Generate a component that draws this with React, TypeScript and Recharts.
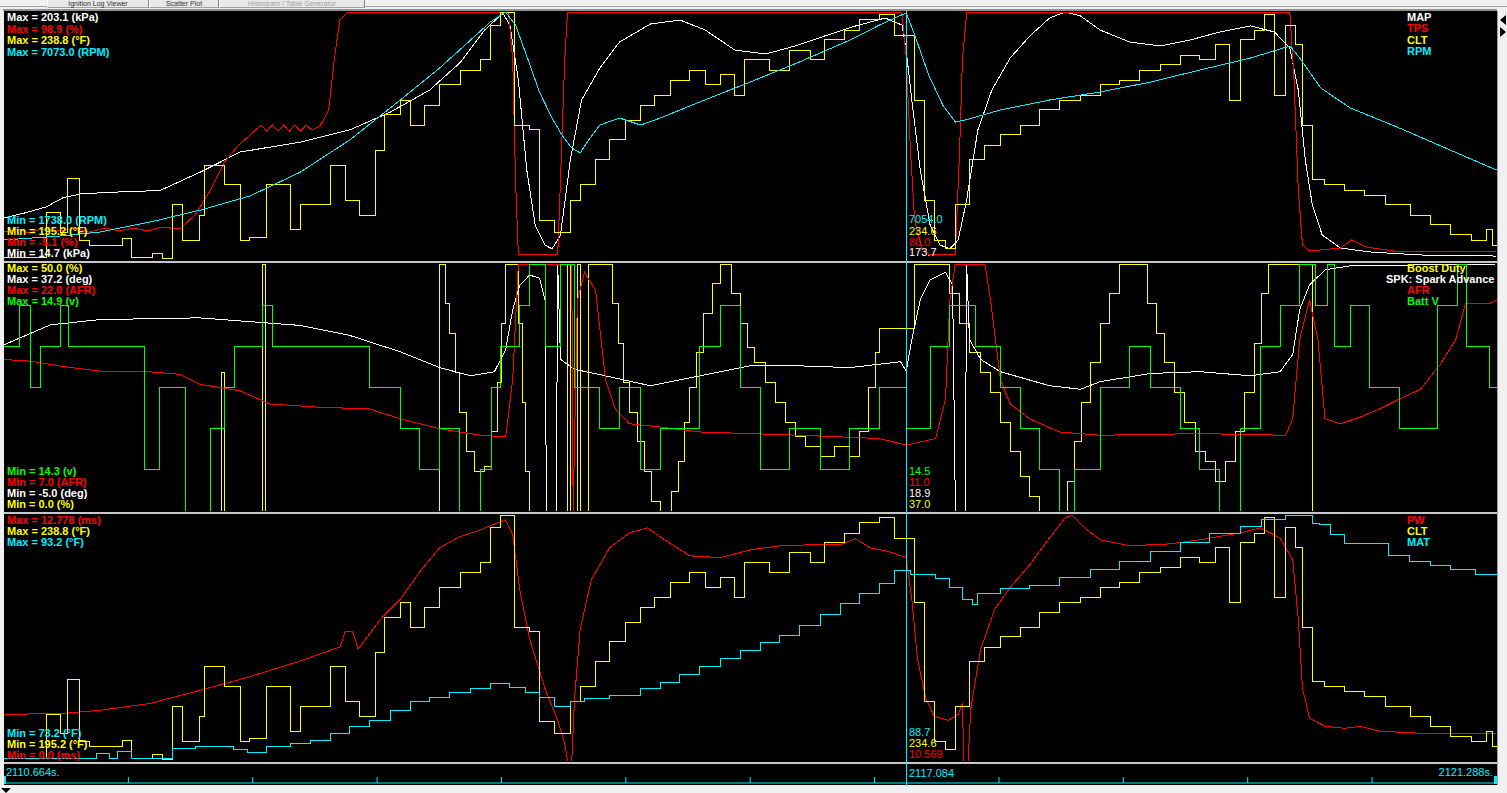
import React from 'react';
import { Line, LineChart, XAxis, YAxis } from 'recharts';

type P = [number, number];

// time window of the log view, seconds since 2110.664 s
const T0 = 2110.664;
const SPAN = 10.624;
const CURSOR = 6.42; // 2117.084 s
const TICKS = [0.885, 1.77, 2.655, 3.54, 4.425, 5.31, 6.195, 7.08, 7.965, 8.85, 9.735];

const WHITE = '#ffffff';
const RED = '#ff0000';
const YELLOW = '#ffff00';
const CYAN = '#00f0ff';
const GREEN = '#00ff00';

// ---- pane 1 ----
const mapKpa: P[] = [
  [0, 46.6], [0.15, 50.5], [0.3, 55.0], [0.42, 62.0], [0.55, 65.0], [0.8, 66.3], [1.11, 67.5], [1.4, 81.6], [1.68, 96.7], [2.11, 104.3], [2.46, 113.5],
  [2.75, 127.1], [3.03, 143.9], [3.25, 165.1], [3.42, 189.4], [3.55, 202.3], [3.6, 193.2], [3.66, 151.4],
  [3.72, 83.1], [3.78, 41.3], [3.85, 26.1], [3.9, 23.1], [3.96, 33.7], [4.03, 90.7], [4.11, 136.2], [4.24, 160.6],
  [4.38, 180.3], [4.6, 194.0], [4.81, 197.0], [4.99, 189.4], [5.2, 174.2], [5.42, 171.2], [5.63, 177.3],
  [5.84, 184.9], [6.06, 192.5], [6.27, 198.5], [6.39, 193.2], [6.42, 173.7], [6.46, 136.2], [6.52, 83.1],
  [6.59, 41.3], [6.66, 26.1], [6.73, 23.1], [6.79, 29.9], [6.85, 60.3], [6.93, 113.5], [7.03, 143.9],
  [7.16, 168.2], [7.3, 184.9], [7.44, 198.5], [7.55, 203.1], [7.66, 200.1], [7.8, 189.4], [8.01, 180.3],
  [8.23, 177.3], [8.44, 181.8], [8.65, 187.9], [8.87, 192.5], [9.04, 187.9], [9.15, 175.8], [9.21, 143.9],
  [9.26, 90.7], [9.31, 56.5], [9.38, 33.7], [9.51, 23.8], [9.72, 20.8], [10.08, 18.5], [10.62, 17.7],
];

const tps: P[] = [
  [0, 6.6], [0.1, 7.9], [0.18, 6.2], [0.26, 7.9], [0.4, 7.1], [0.5, 8.3], [0.6, 6.6], [0.72, 8.3], [0.82, 7.1],
  [0.92, 8.3], [1.02, 7.1], [1.12, 8.7], [1.25, 7.9], [1.36, 13.8], [1.47, 24.3], [1.57, 36.0], [1.67, 43.1],
  [1.79, 49.4], [1.83, 51.5], [1.87, 48.9], [1.91, 51.5], [1.95, 48.9], [1.99, 51.5], [2.03, 48.9], [2.07, 51.5],
  [2.11, 48.9], [2.15, 51.5], [2.19, 49.4], [2.25, 51.1], [2.31, 57.8], [2.35, 78.8], [2.39, 95.6], [2.45, 98.9],
  [3.59, 98.9], [3.62, 78.8], [3.64, 28.5], [3.66, -3.0], [3.94, -3.0], [3.96, 28.5], [3.99, 78.8], [4.01, 98.5],
  [6.39, 98.5], [6.42, 80.0], [6.45, 41.0], [6.48, 11.7], [6.53, -0.1], [6.59, -3.0], [6.77, -2.6], [6.8, 41.0],
  [6.82, 78.8], [6.85, 98.5], [9.15, 98.5], [9.18, 70.4], [9.21, 24.3], [9.24, 1.2], [9.29, -1.3], [9.51, -0.1],
  [9.59, 3.3], [9.69, 0.4], [9.93, -1.7], [10.62, -1.7],
];

const clt: P[] = [
  [0, 195.6], [0.3, 203.5], [0.4, 200.1], [0.45, 209.6], [0.54, 198.7], [0.61, 197.8], [0.84, 198.9], [0.91, 195.7],
  [1.06, 196.3], [1.13, 195.4], [1.2, 204.9], [1.27, 198.7], [1.39, 203.1], [1.43, 211.9], [1.57, 208.4],
  [1.68, 198.7], [1.75, 199.1], [1.87, 208.4], [2.04, 200.5], [2.11, 204.9], [2.32, 211.9], [2.43, 205.7],
  [2.53, 203.1], [2.64, 214.5], [2.71, 220.7], [2.82, 223.3], [2.89, 218.9], [2.99, 222.4], [3.1, 226.0],
  [3.25, 228.6], [3.39, 230.4], [3.46, 236.5], [3.53, 238.8], [3.63, 218.9], [3.74, 218.1], [3.81, 202.2],
  [3.92, 200.1], [4.03, 205.7], [4.1, 208.4], [4.21, 212.8], [4.31, 216.3], [4.42, 219.8], [4.53, 222.4],
  [4.63, 224.2], [4.74, 226.8], [4.88, 228.6], [4.99, 226.0], [5.1, 227.8], [5.2, 224.2], [5.27, 230.4],
  [5.45, 228.6], [5.59, 232.1], [5.74, 230.4], [5.84, 233.9], [5.98, 235.6], [6.09, 237.4], [6.23, 238.3],
  [6.34, 234.6], [6.48, 223.3], [6.55, 205.7], [6.62, 198.7], [6.7, 197.3], [6.77, 204.9], [6.87, 212.8],
  [6.98, 215.4], [7.09, 217.2], [7.23, 218.9], [7.37, 221.6], [7.51, 223.3], [7.66, 224.2], [7.8, 226.0],
  [7.94, 226.8], [8.08, 228.6], [8.23, 229.5], [8.37, 231.2], [8.51, 230.4], [8.62, 233.0], [8.72, 223.3],
  [8.8, 233.9], [8.9, 235.6], [8.97, 238.3], [9.04, 224.2], [9.12, 236.5], [9.19, 233.0], [9.24, 218.9],
  [9.31, 209.3], [9.4, 208.4], [9.54, 207.5], [9.68, 206.6], [9.83, 204.9], [10.01, 203.1], [10.15, 201.4],
  [10.29, 199.6], [10.44, 198.7], [10.55, 200.5], [10.59, 197.8], [10.624, 197.8],
];

const rpm: P[] = [
  [0, 2168], [0.4, 2254], [0.68, 2340], [1.04, 2555], [1.4, 2814], [1.75, 3115], [2.11, 3631], [2.46, 4319],
  [2.82, 5180], [3.1, 5868], [3.32, 6470], [3.46, 6857], [3.57, 7073], [3.64, 6793], [3.73, 6040], [3.81, 5352],
  [3.9, 4792], [3.97, 4427], [4.04, 4147], [4.1, 4040], [4.16, 4319], [4.24, 4642], [4.38, 4792], [4.53, 4642],
  [4.67, 4792], [4.95, 5137], [5.31, 5567], [5.66, 5997], [6.02, 6470], [6.23, 6793], [6.42, 7054], [6.48, 6578],
  [6.58, 5717], [6.68, 5072], [6.77, 4706], [6.84, 4749], [7.09, 4965], [7.44, 5180], [7.8, 5352], [8.16, 5567],
  [8.51, 5825], [8.87, 6083], [9.15, 6341], [9.22, 6083], [9.37, 5438], [9.58, 5008], [9.93, 4577], [10.29, 4104],
  [10.62, 3674],
];

// ---- pane 2 ----
const boostDuty: P[] = [
  [0, 0], [1.55, 28], [1.57, 0], [1.84, 50], [1.86, 0], [3.1, 50], [3.14, 42], [3.17, 36], [3.21, 28], [3.24, 20],
  [3.29, 12], [3.35, 8], [3.42, 9], [3.47, 16], [3.51, 26], [3.54, 38], [3.57, 50], [3.64, 50], [3.66, 38],
  [3.69, 22], [3.71, 8], [3.74, 0], [4.01, 50], [4.03, 0], [4.08, 50], [4.1, 0], [4.16, 50], [4.33, 42], [4.37, 34],
  [4.41, 26], [4.45, 20], [4.51, 14], [4.56, 8], [4.61, 2], [4.67, 0], [4.75, 4], [4.8, 10], [4.84, 18], [4.88, 25],
  [4.93, 32], [4.98, 40], [5.04, 46], [5.1, 50], [5.18, 44], [5.24, 38], [5.29, 33], [5.34, 30], [5.42, 26],
  [5.49, 22], [5.56, 18], [5.63, 15], [5.7, 13], [5.81, 11], [5.91, 13], [6.02, 11], [6.09, 16], [6.15, 25],
  [6.2, 32], [6.23, 37], [6.48, 50], [6.7, 50], [6.73, 44], [6.8, 38], [6.87, 32], [6.95, 28], [7.02, 24],
  [7.09, 18], [7.16, 12], [7.23, 7], [7.3, 3], [7.37, 0], [7.53, 0], [7.57, 6], [7.62, 14], [7.67, 22], [7.73, 30],
  [7.8, 38], [7.87, 44], [7.94, 50], [8.08, 50], [8.14, 42], [8.2, 36], [8.26, 30], [8.33, 24], [8.4, 18],
  [8.48, 12], [8.55, 10], [8.62, 6], [8.69, 10], [8.76, 16], [8.83, 24], [8.9, 34], [8.95, 44], [9.0, 50],
  [9.31, 0], [10.624, 0],
];

const spk: P[] = [
  [0, 23.4], [0.33, 26.8], [0.68, 27.7], [1.39, 28.0], [2.11, 26.7], [2.46, 25.0], [2.82, 22.2], [3.1, 19.5],
  [3.32, 18.1], [3.49, 18.8], [3.57, 22.6], [3.62, 29.4], [3.67, 33.6], [3.74, 35.3], [3.81, 34.8], [3.85, 31.1],
  [3.86, -5], [3.93, -5], [3.94, 37.2], [3.96, 20.9], [4.06, 19.2], [4.24, 18.3], [4.6, 16.4], [4.95, 18.1],
  [5.31, 19.8], [5.66, 19.8], [6.02, 19.5], [6.38, 20.5], [6.42, 18.9], [6.46, 24.3], [6.52, 31.1], [6.59, 34.5],
  [6.7, 35.8], [6.75, 33.6], [6.77, -5], [6.84, -5], [6.85, 37.2], [6.87, 24.3], [6.95, 20.9], [7.09, 18.8],
  [7.44, 16.4], [7.66, 15.8], [7.8, 17.1], [8.16, 18.5], [8.51, 18.8], [8.87, 18.1], [9.08, 18.8], [9.17, 21.7],
  [9.22, 29.4], [9.29, 33.6], [9.4, 36.2], [9.58, 36.9], [9.93, 37.0], [10.62, 37.2],
];

const afr: P[] = [
  [0, 16.2], [0.19, 16.1], [0.4, 15.8], [0.68, 15.5], [0.97, 15.5], [1.25, 15.3], [1.39, 14.7], [1.68, 14.3],
  [1.89, 13.5], [2.25, 13.3], [2.6, 13.2], [2.82, 12.6], [3.1, 12.0], [3.39, 11.6], [3.57, 11.5], [3.62, 15.0],
  [3.66, 22.0], [4.04, 22.0], [4.05, 7.0], [4.08, 19.8], [4.13, 21.5], [4.21, 20.4], [4.28, 15.0], [4.35, 13.2],
  [4.45, 12.3], [4.67, 12.1], [4.95, 11.8], [5.66, 11.6], [6.23, 11.4], [6.42, 11.0], [6.63, 11.4], [6.7, 13.8],
  [6.73, 19.8], [6.77, 22.0], [6.98, 22.0], [7.02, 19.8], [7.09, 15.0], [7.16, 13.5], [7.3, 12.6], [7.51, 11.8],
  [7.8, 11.6], [8.51, 11.7], [9.12, 11.6], [9.17, 12.6], [9.22, 17.4], [9.29, 19.8], [9.35, 17.4], [9.4, 12.6],
  [9.51, 12.3], [9.65, 12.7], [9.79, 13.2], [9.93, 13.8], [10.08, 14.4], [10.22, 15.9], [10.33, 17.4],
  [10.4, 19.6], [10.57, 19.6], [10.62, 19.8],
];

const battV: P[] = [
  [0, 14.7], [0.11, 14.8], [0.19, 14.6], [0.26, 14.7], [0.4, 14.8], [0.46, 14.7], [1.0, 14.4], [1.11, 14.6],
  [1.29, 14.3], [1.47, 14.5], [1.57, 14.6], [1.64, 14.7], [1.84, 14.8], [1.91, 14.7], [2.6, 14.6], [2.82, 14.5],
  [2.96, 14.4], [3.1, 14.5], [3.24, 14.3], [3.39, 14.4], [3.47, 14.6], [3.53, 14.7], [3.67, 14.8], [3.74, 14.9],
  [3.85, 14.7], [3.96, 14.9], [4.06, 14.6], [4.24, 14.5], [4.38, 14.6], [4.53, 14.4], [4.67, 14.5], [4.95, 14.7],
  [5.1, 14.8], [5.24, 14.6], [5.38, 14.4], [5.59, 14.5], [5.81, 14.4], [6.02, 14.5], [6.23, 14.6], [6.42, 14.5],
  [6.59, 14.7], [6.73, 14.8], [6.91, 14.7], [7.09, 14.6], [7.23, 14.5], [7.37, 14.4], [7.51, 14.3], [7.62, 14.4],
  [7.8, 14.6], [8.01, 14.7], [8.16, 14.6], [8.37, 14.5], [8.51, 14.4], [8.65, 14.3], [8.8, 14.5], [8.94, 14.7],
  [9.08, 14.8], [9.22, 14.9], [9.33, 14.8], [9.42, 14.9], [9.47, 14.7], [9.58, 14.8], [9.72, 14.6], [9.93, 14.5],
  [10.2, 14.8], [10.34, 14.9], [10.41, 14.7], [10.57, 14.6], [10.624, 14.6],
];

// ---- pane 3 ----
const pw: P[] = [
  [0, 2.42], [0.4, 2.47], [0.68, 2.63], [1.04, 2.99], [1.39, 3.66], [1.75, 4.38], [2.11, 5.2], [2.39, 5.92],
  [2.43, 6.75], [2.48, 6.75], [2.52, 5.82], [2.68, 7.37], [2.82, 8.4], [2.96, 9.84], [3.1, 11.08], [3.24, 11.64],
  [3.39, 12.0], [3.49, 12.31], [3.57, 12.52], [3.62, 11.75], [3.67, 8.91], [3.74, 6.34], [3.85, 3.76],
  [3.94, 2.11], [3.99, 0.93], [4.01, 0], [4.04, 0], [4.06, 3.25], [4.1, 6.85], [4.18, 9.43], [4.31, 11.08],
  [4.45, 11.85], [4.58, 12.11], [4.7, 11.49], [4.88, 10.66], [5.1, 10.56], [5.31, 10.97], [5.52, 11.18],
  [5.74, 11.23], [5.95, 11.23], [6.06, 11.55], [6.16, 11.08], [6.3, 10.87], [6.42, 10.569], [6.46, 8.4],
  [6.5, 5.31], [6.56, 3.25], [6.62, 2.32], [6.72, 2.11], [6.79, 2.42], [6.82, 2.99], [6.83, 0], [6.86, 0],
  [6.88, 2.73], [6.95, 5.82], [7.05, 7.88], [7.16, 9.02], [7.3, 10.2], [7.44, 11.59], [7.55, 12.62], [7.6, 12.778],
  [7.69, 12.11], [7.8, 11.49], [8.01, 11.18], [8.3, 11.28], [8.51, 11.49], [8.8, 11.85], [8.94, 12.11],
  [9.08, 11.59], [9.17, 10.46], [9.21, 7.37], [9.24, 3.76], [9.29, 2.22], [9.4, 1.8], [9.54, 1.7], [9.65, 1.8],
  [9.79, 1.55], [10.08, 1.44], [10.62, 1.44],
];

const mat: P[] = [
  [0, 73.4], [0.66, 73.8], [0.75, 73.4], [0.81, 74.0], [0.91, 73.4], [1.2, 74.2], [1.36, 74.4], [1.63, 74.1],
  [1.73, 73.9], [1.87, 74.4], [2.04, 74.6], [2.18, 74.9], [2.32, 75.4], [2.46, 76.0], [2.6, 76.5], [2.75, 77.3],
  [2.89, 78.0], [3.03, 78.4], [3.17, 78.8], [3.32, 79.1], [3.46, 79.5], [3.6, 79.2], [3.71, 78.8], [3.81, 78.4],
  [3.92, 77.6], [4.03, 78.0], [4.13, 78.3], [4.31, 78.5], [4.53, 79.1], [4.67, 79.6], [4.81, 80.2], [4.95, 80.9],
  [5.1, 81.5], [5.24, 82.2], [5.38, 82.8], [5.52, 83.4], [5.66, 84.2], [5.81, 85.1], [5.95, 86.0], [6.09, 86.8],
  [6.23, 87.6], [6.34, 88.7], [6.45, 88.4], [6.63, 88.0], [6.73, 87.3], [6.82, 86.3], [6.89, 85.9], [6.93, 86.8],
  [7.09, 87.2], [7.3, 87.5], [7.51, 88.1], [7.73, 88.8], [7.94, 89.4], [8.16, 90.2], [8.37, 91.0], [8.58, 91.7],
  [8.8, 92.3], [8.95, 92.8], [9.12, 93.2], [9.31, 92.5], [9.36, 92.4], [9.44, 91.6], [9.54, 90.9], [9.85, 89.9],
  [10.0, 89.4], [10.15, 89.1], [10.29, 88.8], [10.47, 88.4], [10.624, 88.1],
];

type Series = {
  id: string; name: string; unit: string; color: string; data: P[];
  min: number; max: number; maxText?: string; cursor: string; step?: boolean;
};

const S: Record<string, Series> = {
  map: { id: 'map', name: 'MAP', unit: 'kPa', color: WHITE, data: mapKpa, min: 14.7, max: 203.1, cursor: '173.7' },
  tps: { id: 'tps', name: 'TPS', unit: '%', color: RED, data: tps, min: -5.1, max: 98.9, cursor: '80.0' },
  clt: { id: 'clt', name: 'CLT', unit: '\u00b0F', color: YELLOW, data: clt, min: 195.2, max: 238.8, cursor: '234.6', step: true },
  rpm: { id: 'rpm', name: 'RPM', unit: 'RPM', color: CYAN, data: rpm, min: 1738.0, max: 7073.0, cursor: '7054.0' },
  boost: { id: 'boost', name: 'Boost Duty', unit: '%', color: YELLOW, data: boostDuty, min: 0, max: 50, cursor: '37.0', step: true },
  spk: { id: 'spk', name: 'SPK: Spark Advance', unit: 'deg', color: WHITE, data: spk, min: -5.0, max: 37.2, cursor: '18.9' },
  afr: { id: 'afr', name: 'AFR', unit: 'AFR', color: RED, data: afr, min: 7.0, max: 22.0, cursor: '11.0' },
  batt: { id: 'batt', name: 'Batt V', unit: 'v', color: GREEN, data: battV, min: 14.3, max: 14.9, cursor: '14.5', step: true },
  pw: { id: 'pw', name: 'PW', unit: 'ms', color: RED, data: pw, min: 0, max: 12.778, maxText: '12.778', cursor: '10.569' },
  mat: { id: 'mat', name: 'MAT', unit: '\u00b0F', color: CYAN, data: mat, min: 73.2, max: 93.2, cursor: '88.7', step: true },
};

const PANES = [
  { top: 12, h: 248, series: [S.map, S.tps, S.clt, S.rpm], nameX: [1407, 1407, 1407, 1407], base: [21, 32.5, 44, 55.5], minBase: [224, 235.2, 246.3, 257.4], curBase: [223.3, 234.8, 245.5, 256] },
  { top: 264, h: 247, series: [S.boost, S.spk, S.afr, S.batt], nameX: [1407, 1386, 1407, 1407], base: [272, 283.2, 294.3, 305.4], minBase: [475, 486, 496.8, 507.5], curBase: [475, 486, 496.8, 507.5] },
  { top: 515, h: 246, series: [S.pw, S.clt, S.mat], nameX: [1407, 1407, 1407], base: [524, 535, 546], minBase: [736.7, 747.8, 759], curBase: [736.2, 747.3, 758.4] },
];

const TABS = [
  { x: 47, w: 100, label: 'Ignition Log Viewer', c: '#303030' },
  { x: 149, w: 68, label: 'Scatter Plot', c: '#303030' },
  { x: 219, w: 144, label: 'Histogram / Table Generator', c: '#a0a0a0' },
];

const W = 1493;
const LEFT = 4;
const FONT = '"Liberation Sans", Arial, sans-serif';
const xOf = (t: number) => LEFT + (t / SPAN) * W;

const Txt = ({ x, base, color, bold, children, right }: { x: number; base: number; color: string; bold?: boolean; children: React.ReactNode; right?: boolean }) => (
  <div
    style={{
      position: 'absolute', top: base - 10, left: right ? undefined : x, right: right ? 1507 - x : undefined,
      fontFamily: FONT, fontSize: 11, lineHeight: '12px', fontWeight: bold ? 700 : 400, color, whiteSpace: 'nowrap',
    }}
  >
    {children}
  </div>
);

const EmptyTick = () => <g />;

export default function App() {
  const cx = Math.round(xOf(CURSOR));
  return (
    <div style={{ position: 'absolute', left: 0, top: 0, width: 1507, height: 793, background: '#f0f0f0', overflow: 'hidden' }}>
      <style>{'.recharts-curve{shape-rendering:crispEdges}'}</style>

      {/* tab strip */}
      <div style={{ position: 'absolute', left: 0, top: 6, width: 1507, height: 1, background: '#a0a0a0' }} />
      {TABS.map((tb) => (
        <div key={tb.label} style={{ position: 'absolute', left: tb.x, top: 0, width: tb.w, height: 7, background: '#e8e8e8', borderLeft: '1px solid #ffffff', borderRight: '1px solid #808080', borderBottom: '1px solid #a0a0a0' }}>
          <div style={{ position: 'absolute', left: 0, right: 0, top: 0, textAlign: 'center', fontFamily: FONT, fontSize: 7, lineHeight: '7px', color: tb.c, whiteSpace: 'nowrap' }}>{tb.label}</div>
        </div>
      ))}

      {/* plot frame */}
      <div style={{ position: 'absolute', left: LEFT - 1, top: 9, width: W + 1, height: 2, background: '#909090' }} />
      <div style={{ position: 'absolute', left: LEFT, top: 11, width: W, height: 774, background: '#000' }} />
      {[261, 512, 762].map((y) => (
        <div key={y} style={{ position: 'absolute', left: LEFT, top: y, width: W, height: 2, background: '#c8c8c8' }} />
      ))}

      {PANES.map((p, i) => (
        <div key={i} style={{ position: 'absolute', left: LEFT, top: p.top, width: W, height: p.h }}>
          <LineChart width={W} height={p.h} margin={{ top: 0, right: 0, bottom: 0, left: 0 }}>
            <XAxis type="number" dataKey="t" domain={[0, SPAN]} hide />
            {p.series.map((s) => (
              <YAxis key={s.id} yAxisId={s.id} type="number" domain={[s.min, s.max]} hide />
            ))}
            {p.series.map((s) => (
              <Line
                key={s.id}
                yAxisId={s.id}
                data={s.data.map(([t, v]) => ({ t, v }))}
                dataKey="v"
                type={s.step ? 'stepAfter' : 'linear'}
                stroke={s.color}
                strokeWidth={1}
                dot={false}
                activeDot={false}
                isAnimationActive={false}
              />
            ))}
          </LineChart>
        </div>
      ))}

      {/* cursor */}
      <div style={{ position: 'absolute', left: cx, top: 11, width: 1, height: 775, background: CYAN }} />

      {/* labels */}
      {PANES.map((p, i) => (
        <React.Fragment key={i}>
          {p.series.map((s, j) => (
            <Txt key={'mx' + j} x={7} base={p.base[j]} color={s.color} bold>
              {`Max = ${s.maxText ?? s.max.toFixed(1)} (${s.unit})`}
            </Txt>
          ))}
          {[...p.series].reverse().map((s, j) => (
            <Txt key={'mn' + j} x={7} base={p.minBase[j]} color={s.color} bold>
              {`Min = ${s.min.toFixed(1)} (${s.unit})`}
            </Txt>
          ))}
          {p.series.map((s, j) => (
            <Txt key={'nm' + j} x={p.nameX[j]} base={p.base[j] - 0.5} color={s.color} bold>
              {s.name}
            </Txt>
          ))}
          {[...p.series].reverse().map((s, j) => (
            <Txt key={'cv' + j} x={cx + 3} base={p.curBase[j]} color={s.color}>
              {s.cursor}
            </Txt>
          ))}
        </React.Fragment>
      ))}

      {/* time axis */}
      <Txt x={6} base={776} color={CYAN}>{`${T0.toFixed(3)}s.`}</Txt>
      <Txt x={cx + 3} base={777} color={CYAN}>{(T0 + CURSOR).toFixed(3)}</Txt>
      <Txt x={1493} base={776} color={CYAN} right>{`${(T0 + SPAN).toFixed(3)}s.`}</Txt>
      <div style={{ position: 'absolute', left: LEFT, top: 776, width: W, height: 10 }}>
        <LineChart width={W} height={10} margin={{ top: 0, right: 0, bottom: 0, left: 0 }}>
          <XAxis
            type="number"
            dataKey="t"
            orientation="top"
            domain={[0, SPAN]}
            ticks={TICKS}
            height={7}
            tickSize={6}
            tick={<EmptyTick />}
            axisLine={{ stroke: CYAN }}
            tickLine={{ stroke: CYAN }}
            interval={0}
          />
          <YAxis hide />
          <Line data={[{ t: 0, v: 0 }, { t: SPAN, v: 0 }]} dataKey="v" stroke="none" dot={false} isAnimationActive={false} />
        </LineChart>
      </div>
      <div style={{ position: 'absolute', left: 1494, top: 776, width: 3, height: 8, background: CYAN }} />
      <div style={{ position: 'absolute', left: LEFT, top: 776, width: 2, height: 8, background: CYAN }} />

      {/* scrollbar */}
      <div style={{ position: 'absolute', left: 1497, top: 11, width: 1, height: 774, background: '#a0a0a0' }} />
      <div style={{ position: 'absolute', left: 1500, top: 15, width: 0, height: 0, borderTop: '5px solid transparent', borderBottom: '5px solid transparent', borderRight: '6px solid #000' }} />
      <div style={{ position: 'absolute', left: 1500, top: 27, width: 0, height: 0, borderTop: '5px solid transparent', borderBottom: '5px solid transparent', borderLeft: '6px solid #000' }} />
      <div style={{ position: 'absolute', left: 1, top: 788, width: 0, height: 0, borderLeft: '5px solid transparent', borderRight: '5px solid transparent', borderTop: '5px solid #000' }} />
    </div>
  );
}
